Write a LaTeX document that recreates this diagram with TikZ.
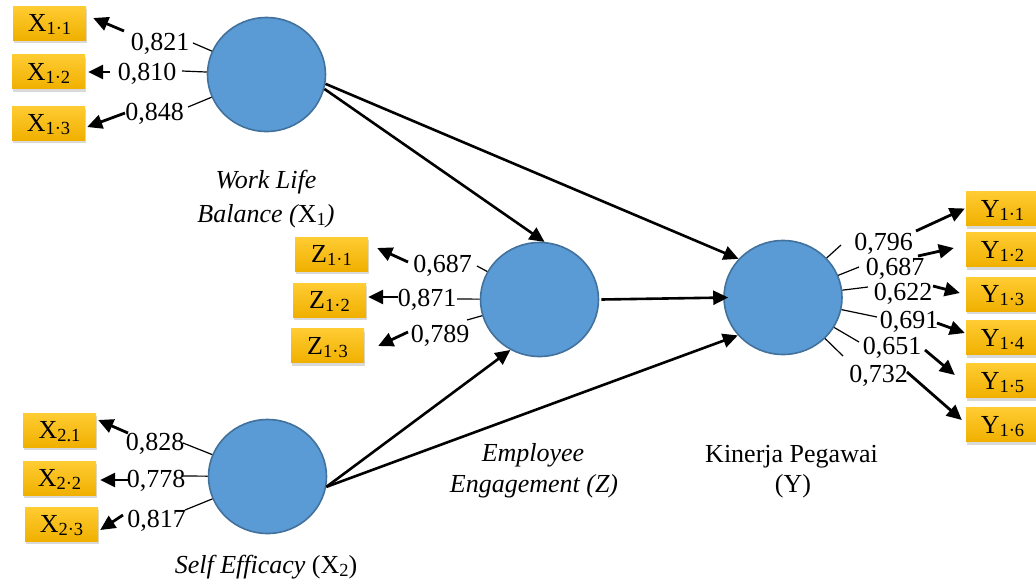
\documentclass[tikz,border=0pt]{standalone}
\usepackage{fontspec}
\setmainfont{Liberation Serif}
\usetikzlibrary{arrows.meta,shapes.geometric,shadows}

\definecolor{lvfill}{HTML}{5B9BD5}
\definecolor{lvdraw}{HTML}{41719C}
\definecolor{ittop}{HTML}{FFCC33}
\definecolor{itbot}{HTML}{F0B000}

% lowered index digits, as in X1.1
\newcommand{\idx}[1]{\raisebox{-3pt}{\fontsize{18.5}{18.5}\selectfont #1}}

\begin{document}
\begin{tikzpicture}[x=1pt, y=-1pt,
  font=\fontsize{26}{30}\selectfont,
  latent/.style={ellipse, minimum width=118pt, minimum height=114pt, inner sep=0pt,
                 fill=lvfill, draw=lvdraw, line width=1.6pt},
  item/.style={rectangle, minimum width=73pt, minimum height=34pt, inner sep=0pt,
               text height=17pt, text depth=0pt, top color=ittop, bottom color=itbot,
               drop shadow={shadow xshift=1pt, shadow yshift=-3pt, opacity=0.3}},
  load/.style={anchor=base, inner sep=0pt},
  lvname/.style={anchor=base, inner sep=0pt},
  tick/.style={line width=1.2pt},
  ind/.style={line width=2.8pt, -{Triangle[length=15pt,width=14pt]}},
  rel/.style={line width=2.6pt, -{Triangle[length=15pt,width=14pt]}}]
\useasboundingbox (0,0) rectangle (1036,582);

% latent variables
\node[latent] (X1) at (266.5,74.5) {};
\node[latent] (Z)  at (539.5,299.5) {};
\node[latent] (X2) at (267.5,476.5) {};
\node[latent] (Y)  at (783,297.5) {};

% latent variable names
\node[lvname] (nX1a) at (266,188) {\itshape Work Life};
\node[lvname] (nX1b) at (266,222) {{\itshape Balance (}X\idx{1}{\itshape )}};
\node[lvname] (nZa)  at (533,461) {\itshape Employee};
\node[lvname] (nZb)  at (534,492) {\itshape Engagement (Z)};
\node[lvname] (nYa)  at (791.5,462) {Kinerja Pegawai};
\node[lvname] (nYb)  at (793,492) {(Y)};
\node[lvname] (nX2)  at (266,573) {{\itshape Self Efficacy} (X\idx{2})};

% structural paths
\draw[rel] (X1.-14) -- (Z.85);
\draw[rel] (X1.-9) -- (Y.139);
\draw[rel] ([xshift=2pt]Z.east) -- ([xshift=5pt]Y.west);
\draw[rel] (X2.-10) -- (Z.240);
\draw[rel] (X2.-10) -- (Y.220);

% indicators of X1
\node[item] (x11) at (49.5,23)   {X\idx{1·1}};
\node[item] (x12) at (48.5,71.5) {X\idx{1·2}};
\node[item] (x13) at (48.5,123)  {X\idx{1·3}};
\node[load] (lx11) at (160,50)   {0,821};
\node[load] (lx12) at (147,80)   {0,810};
\node[load] (lx13) at (154.5,120) {0,848};
\coordinate (tx11) at (193,43);
\coordinate (tx12) at (182,71);
\coordinate (tx13) at (188,107);
\coordinate (ax11) at (124,31);
\coordinate (ax12) at (110,72);
\coordinate (ax13) at (125,113);
\draw[tick] (X1) -- (tx11);
\draw[tick] (X1) -- (tx12);
\draw[tick] (X1) -- (tx13);
\draw[ind] (ax11) -- ([shift={(7,-5)}]x11.east);
\draw[ind] (ax12) -- ([shift={(3,0.5)}]x12.east);
\draw[ind] (ax13) -- ([shift={(2,4)}]x13.east);

% indicators of Z
\node[item] (z11) at (331.5,254)   {Z\idx{1·1}};
\node[item] (z12) at (329.5,300)   {Z\idx{1·2}};
\node[item] (z13) at (327.5,345.5) {Z\idx{1·3}};
\node[load] (lz11) at (442.5,272) {0,687};
\node[load] (lz12) at (427,306)   {0,871};
\node[load] (lz13) at (440,342)   {0,789};
\coordinate (tz11) at (477,266);
\coordinate (tz12) at (457,299);
\coordinate (tz13) at (467,320);
\coordinate (az11) at (408,262);
\coordinate (az12) at (398,297);
\coordinate (az13) at (408,332);
\draw[tick] (Z) -- (tz11);
\draw[tick] (Z) -- (tz12);
\draw[tick] (Z) -- (tz13);
\draw[ind] (az11) -- ([shift={(9,-6)}]z11.east);
\draw[ind] (az12) -- ([shift={(2,-3)}]z12.east);
\draw[ind] (az13) -- ([shift={(14,0.5)}]z13.east);

% indicators of X2
\node[item] (x21) at (59.5,430) {X\idx{2.1}};
\node[item] (x22) at (59.5,478) {X\idx{2·2}};
\node[item] (x23) at (61.5,524) {X\idx{2·3}};
\node[load] (lx21) at (155,450)   {0,828};
\node[load] (lx22) at (156,487)   {0,778};
\node[load] (lx23) at (156.5,527) {0,817};
\coordinate (tx21) at (183,443);
\coordinate (tx22) at (182,476);
\coordinate (tx23) at (185,510);
\coordinate (ax21) at (128,433);
\coordinate (ax22) at (128,480);
\coordinate (ax23) at (123,515);
\draw[tick] (X2) -- (tx21);
\draw[tick] (X2) -- (tx22);
\draw[tick] (X2) -- (tx23);
\draw[ind] (ax21) -- ([shift={(2,-10)}]x21.east);
\draw[ind] (ax22) -- ([shift={(4,2)}]x22.east);
\draw[ind] (ax23) -- ([shift={(2,6)}]x23.east);

% indicators of Y
\node[item] (y11) at (1002.5,208.5) {Y\idx{1·1}};
\node[item] (y12) at (1002.5,249.5) {Y\idx{1·2}};
\node[item] (y13) at (1002.5,294)   {Y\idx{1·3}};
\node[item] (y14) at (1002.5,337.5) {Y\idx{1·4}};
\node[item] (y15) at (1002.5,380.5) {Y\idx{1·5}};
\node[item] (y16) at (1002.5,424.5) {Y\idx{1·6}};
\node[load] (ly11) at (883.5,250) {0,796};
\node[load] (ly12) at (895,275)   {0,687};
\node[load] (ly13) at (903,300)   {0,622};
\node[load] (ly14) at (909,328)   {0,691};
\node[load] (ly15) at (892,354)   {0,651};
\node[load] (ly16) at (878.5,382) {0,732};
\coordinate (ty11) at (841,245);
\coordinate (ty12) at (859,267);
\coordinate (ty13) at (868,287);
\coordinate (ty14) at (877,317);
\coordinate (ty15) at (859,342);
\coordinate (ty16) at (843,356);
\coordinate (ay11) at (916,231);
\coordinate (ay12) at (918,256);
\coordinate (ay13) at (933,286);
\coordinate (ay14) at (937,323);
\coordinate (ay15) at (925,350);
\coordinate (ay16) at (907,372);
\draw[tick] (Y) -- (ty11);
\draw[tick] (Y) -- (ty12);
\draw[tick] (Y) -- (ty13);
\draw[tick] (Y) -- (ty14);
\draw[tick] (Y) -- (ty15);
\draw[tick] (Y) -- (ty16);
\draw[ind] (ay11) -- ([shift={(-1,0)}]y11.west);
\draw[ind] (ay12) -- ([shift={(-12,-1.5)}]y12.west);
\draw[ind] (ay13) -- ([shift={(-6,-1)}]y13.west);
\draw[ind] (ay14) -- ([shift={(-1,-4.5)}]y14.west);
\draw[ind] (ay15) -- ([shift={(-11,-5.5)}]y15.west);
\draw[ind] (ay16) -- ([shift={(-4,-4.5)}]y16.west);
\end{tikzpicture}
\end{document}
